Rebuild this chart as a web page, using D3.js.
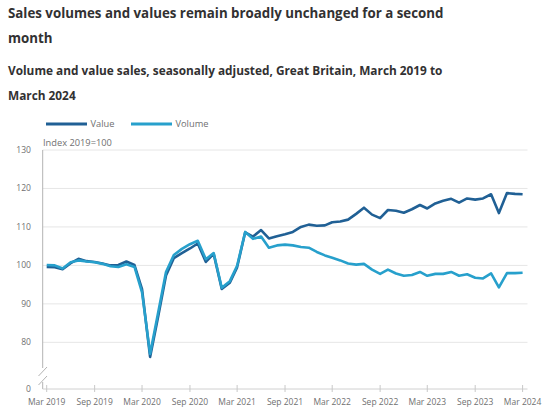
<!DOCTYPE html>
<html>
<head>
<meta charset="utf-8">
<script src="https://cdn.jsdelivr.net/npm/d3@7"></script>
<style>
  html, body { margin: 0; padding: 0; background: #fff; }
  svg { display: block; font-family: "Open Sans", sans-serif; }
</style>
</head>
<body>
<svg id="chart" width="550" height="410"></svg>
<script>
const titleLines = ["Sales volumes and values remain broadly unchanged for a second", "month"];
const subtitleLines = ["Volume and value sales, seasonally adjusted, Great Britain, March 2019 to", "March 2024"];
const seriesNames = ["Value", "Volume"];
const startMonth = "2019-03";
const endMonth = "2024-03";
const valueSeries = [99.6, 99.5, 99.0, 100.6, 101.7, 101.1, 100.9, 100.5, 100.0, 100.1, 101.0, 100.1,
  93.8, 76.2, 86.4, 97.4, 101.9, 103.2, 104.4, 105.7, 100.9, 103.0, 93.9, 95.5,
  99.5, 108.6, 107.5, 109.2, 107.0, 107.6, 108.1, 108.7, 110.0, 110.6, 110.3, 110.4,
  111.2, 111.4, 111.9, 113.4, 115.0, 113.2, 112.3, 114.4, 114.2, 113.7, 114.6, 115.7,
  114.8, 116.1, 116.8, 117.3, 116.3, 117.4, 117.1, 117.4, 118.5, 113.6, 118.8, 118.6, 118.5];
const volumeSeries = [100.1, 100.0, 99.2, 100.8, 101.3, 101.0, 100.8, 100.4, 99.8, 99.6, 100.3, 99.6,
  93.0, 77.0, 87.4, 98.3, 102.7, 104.3, 105.5, 106.4, 101.6, 103.2, 94.2, 95.9,
  99.9, 108.7, 106.9, 107.5, 104.6, 105.2, 105.4, 105.2, 104.8, 104.6, 103.5, 102.6,
  102.0, 101.3, 100.5, 100.2, 100.4, 98.9, 97.8, 98.9, 97.9, 97.3, 97.5, 98.3,
  97.3, 97.8, 97.8, 98.3, 97.3, 97.7, 96.8, 96.6, 97.9, 94.3, 98.0, 98.0, 98.1];
const xTickLabels = ["Mar 2019", "Sep 2019", "Mar 2020", "Sep 2020", "Mar 2021", "Sep 2021",
  "Mar 2022", "Sep 2022", "Mar 2023", "Sep 2023", "Mar 2024"];
const yTicks = [0, 80, 90, 100, 110, 120, 130];
const yLabel = "Index 2019=100";
const colors = ["#206095", "#27a0cc"];

const svg = d3.select("#chart");
const parse = d3.timeParse("%Y-%m");
const fmtTick = d3.timeFormat("%b %Y");
const start = parse(startMonth), end = parse(endMonth);
const months = d3.timeMonth.range(start, d3.timeMonth.offset(end, 1));

// scale a text's font so a reference string takes the wanted width
function fitSize(sample, base, weight, width) {
  const t = svg.append("text").attr("font-size", base).attr("font-weight", weight).text(sample);
  const w = t.node().getComputedTextLength();
  t.remove();
  return base * width / w;
}
const titleSize = fitSize(titleLines[0], 14, 700, 436);
const subSize = fitSize(subtitleLines[0], 12, 700, 435);
const xTickSize = fitSize("Mar 2019", 9, 400, 37.5);
const yTickSize = fitSize("130", 9, 400, 14.7);
const labelSize = fitSize(yLabel, 9, 400, 69);
const legendSize = fitSize("Volume", 9, 400, 33);

// titles
const titleG = svg.append("g");
titleLines.forEach((t, i) => {
  titleG.append("text").attr("x", 8).attr("y", 18 + i * 25)
    .attr("font-size", titleSize).attr("font-weight", 700).attr("fill", "#323132").text(t);
});
subtitleLines.forEach((t, i) => {
  titleG.append("text").attr("x", 8).attr("y", 74.5 + i * 25)
    .attr("font-size", subSize).attr("font-weight", 700).attr("fill", "#323132").text(t);
});

// scales
const plotLeft = 42.7, plotRight = 527.5, plotBottom = 389;
const x = d3.scaleTime().domain([start, end]).range([46.7, 522.6]);
const y = d3.scaleLinear().domain([0, 70, 130]).range([389, 380.8, 150]);

// gridlines
svg.append("g").selectAll("line").data(yTicks.filter(d => d > 0)).join("line")
  .attr("x1", plotLeft).attr("x2", plotRight)
  .attr("y1", d => y(d)).attr("y2", d => y(d))
  .attr("stroke", "#e6e6e6").attr("stroke-width", 1);

// y tick labels
svg.append("g").selectAll("text").data(yTicks).join("text")
  .attr("x", 31).attr("y", d => y(d)).attr("dy", "0.35em")
  .attr("text-anchor", "end").attr("font-size", yTickSize).attr("fill", "#707071")
  .text(d => d);

// y axis line with break
const axisG = svg.append("g").attr("stroke", "#b3b3b3").attr("stroke-width", 1).attr("fill", "none");
axisG.append("line").attr("x1", plotLeft).attr("x2", plotLeft).attr("y1", y(130)).attr("y2", 368);
axisG.append("line").attr("x1", plotLeft).attr("x2", plotLeft).attr("y1", 382).attr("y2", plotBottom);
axisG.append("line").attr("x1", 38.5).attr("x2", 47).attr("y1", 376).attr("y2", 367);
axisG.append("line").attr("x1", 38.5).attr("x2", 47).attr("y1", 385).attr("y2", 376);

// x axis
axisG.append("line").attr("x1", plotLeft).attr("x2", plotRight).attr("y1", plotBottom).attr("y2", plotBottom)
  .attr("stroke", "#d0d0d0");
const tickDates = xTickLabels.map(s => d3.timeParse("%b %Y")(s));
svg.append("g").selectAll("line").data(tickDates).join("line")
  .attr("x1", d => x(d)).attr("x2", d => x(d)).attr("y1", 385).attr("y2", 392)
  .attr("stroke", "#c8c8c8").attr("stroke-width", 1);
svg.append("g").selectAll("text").data(tickDates).join("text")
  .attr("x", d => x(d)).attr("y", 402).attr("dy", "0.35em")
  .attr("text-anchor", "middle").attr("font-size", xTickSize).attr("fill", "#707071")
  .text(d => fmtTick(d));

// y label
svg.append("text").attr("x", 43).attr("y", 143).attr("dy", "0.35em")
  .attr("font-size", labelSize).attr("fill", "#707071").text(yLabel);

// lines
const line = d3.line().x((d, i) => x(months[i])).y(d => y(d));
[valueSeries, volumeSeries].forEach((s, k) => {
  svg.append("path").datum(s).attr("d", line)
    .attr("fill", "none").attr("stroke", colors[k]).attr("stroke-width", 2.6)
    .attr("stroke-linejoin", "round");
});

// legend
const legendX = [46, 131];
seriesNames.forEach((n, k) => {
  svg.append("line").attr("x1", legendX[k]).attr("x2", legendX[k] + 41)
    .attr("y1", 124).attr("y2", 124).attr("stroke", colors[k]).attr("stroke-width", 3);
  svg.append("text").attr("x", legendX[k] + 44.5).attr("y", 124).attr("dy", "0.35em")
    .attr("font-size", legendSize).attr("fill", "#707071").text(n);
});
</script>
</body>
</html>
